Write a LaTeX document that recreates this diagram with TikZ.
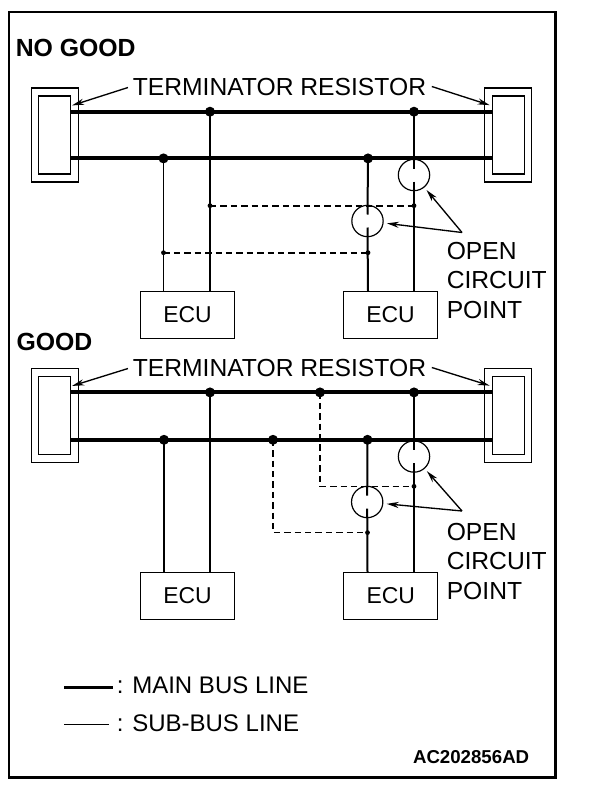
\documentclass[tikz,border=0pt]{standalone}
\usepackage{fontspec}
\setmainfont{Liberation Sans}
\usetikzlibrary{arrows.meta,calc}
\begin{document}
\begin{tikzpicture}[x=0.75pt,y=-0.75pt,
  mainbus/.style={line width=3pt},
  medline/.style={line width=1.5pt},
  thinline/.style={line width=0.8pt},
  dashthick/.style={line width=1.2pt,dash pattern=on 4.8pt off 3pt},
  dashthin/.style={line width=0.8pt,dash pattern=on 4.8pt off 3pt},
  bigdot/.style={circle,fill=black,inner sep=0pt,minimum size=7.5pt},
  smalldot/.style={circle,fill=black,inner sep=0pt,minimum size=3.6pt},
  termout/.style={draw,line width=0.9pt,inner sep=0pt,minimum width=35.4pt,minimum height=70.5pt},
  termin/.style={draw,line width=0.9pt,inner sep=0pt,minimum width=24pt,minimum height=58.5pt},
  ecubox/.style={draw,line width=0.9pt,inner sep=0pt,minimum width=70.6pt,minimum height=35pt,font=\fontsize{17.2}{19}\selectfont},
  opencirc/.style={circle,draw,line width=0.9pt,inner sep=0pt,minimum size=23.5pt},
  lbl/.style={inner sep=0pt,anchor=base west,font=\fontsize{18.5}{20}\selectfont},
  leglbl/.style={inner sep=0pt,anchor=base west,font=\fontsize{18}{20}\selectfont},
  title/.style={inner sep=0pt,anchor=base west,font=\fontsize{18.6}{20}\selectfont\bfseries},
  arr/.style={line width=1pt,-{Stealth[length=9pt,width=4.6pt]}}
]
\useasboundingbox[fill=white] (0,0) rectangle (608,810);
\draw[line width=1.6pt] (9,11.7) rectangle (555.5,777.5);

% ================= NO GOOD =================
\node[title] (ng) at (15.5,56) {NO GOOD};
\node[lbl] (a-tt) at (132.5,95) {TERMINATOR RESISTOR};
\node[termout] (a-tlout) at (54.7,135) {};
\node[termin]  (a-tlin)  at (54.8,135) {};
\node[termout] (a-trout) at (507.7,135) {};
\node[termin]  (a-trin)  at (508.2,135) {};
\coordinate (a-j1) at (210,111.7);
\coordinate (a-j2) at (414,111.7);
\coordinate (a-j3) at (163.5,158.4);
\coordinate (a-j4) at (368,158.4);
\coordinate (a-d1) at (210,205.7);
\coordinate (a-d2) at (414,205.7);
\coordinate (a-d3) at (163.5,252.7);
\coordinate (a-d4) at (368,252.7);
\node[ecubox] (a-ecu1) at (187.5,315) {ECU};
\node[ecubox] (a-ecu2) at (390.5,315) {ECU};
\node[opencirc] (a-c1) at (367.5,221) {};
\node[opencirc] (a-c2) at (414,175) {};
\draw[mainbus] (a-tlin.east |- a-j1) -- (a-trin.west |- a-j1);
\draw[mainbus] (a-tlin.east |- a-j3) -- (a-trin.west |- a-j3);
\draw[thinline] (a-j3) -- (a-j3 |- a-ecu1.north);
\draw[medline] (a-j1) -- (a-j1 |- a-ecu1.north);
\draw[medline] (a-j4) -- ($(a-c1.center)+(0,-6.5)$);
\draw[medline] ($(a-c1.center)+(0,6.5)$) -- (a-j4 |- a-ecu2.north);
\draw[thinline] (a-j2) -- ($(a-c2.center)+(0,-6.5)$);
\draw[thinline] ($(a-c2.center)+(0,6.5)$) -- (a-j2 |- a-ecu2.north);
\draw[dashthick] (a-d1) -- (a-d2);
\draw[dashthick] (a-d3) -- (a-d4);
\foreach \p in {a-j1,a-j2,a-j3,a-j4} \node[bigdot] at (\p) {};
\foreach \p in {a-d1,a-d2,a-d3,a-d4} \node[smalldot] at (\p) {};
\draw[arr] ($(a-tt.west)+(-4.5,1)$) -- ($(a-tlin.north east)+(0.7,10)$);
\draw[arr] ($(a-tt.east)+(5.5,0)$) -- ($(a-trin.north west)+(-2,9.7)$);
\node[lbl] (a-o1) at (446.5,259.5) {OPEN};
\node[lbl] (a-o2) at (446.5,288.5) {CIRCUIT};
\node[lbl] (a-o3) at (446.5,318.5) {POINT};
\coordinate (a-p) at (462,232.5);
\draw[arr,shorten >=2.5pt] (a-p) -- (a-c2);
\draw[arr,shorten >=2.5pt] (a-p) -- (a-c1);

% ================= GOOD =================
\node[title] (gd) at (16.3,350) {GOOD};
\begin{scope}[shift={(0,281)}]
\node[lbl] (b-tt) at (132.5,95) {TERMINATOR RESISTOR};
\node[termout] (b-tlout) at (54.7,134.5) {};
\node[termin]  (b-tlin)  at (54.8,134.5) {};
\node[termout] (b-trout) at (507.7,134.5) {};
\node[termin]  (b-trin)  at (508.2,134.5) {};
\coordinate (b-j1) at (210,111.4);
\coordinate (b-j5) at (320,111.4);
\coordinate (b-j2) at (414,111.4);
\coordinate (b-j3) at (164,158.8);
\coordinate (b-j6) at (273,158.8);
\coordinate (b-j4) at (367.5,158.8);
\coordinate (b-k1) at (320,205.3);
\coordinate (b-d2) at (414,205.3);
\coordinate (b-k2) at (273,251.6);
\coordinate (b-d4) at (367.5,251.6);
\node[ecubox] (b-ecu1) at (187.5,315) {ECU};
\node[ecubox] (b-ecu2) at (390.8,315) {ECU};
\node[opencirc] (b-c1) at (367.2,221) {};
\node[opencirc] (b-c2) at (414,175.5) {};
\draw[mainbus] (b-tlin.east |- b-j1) -- (b-trin.west |- b-j1);
\draw[mainbus] (b-tlin.east |- b-j3) -- (b-trin.west |- b-j3);
\draw[thinline] (b-j3) -- (b-j3 |- b-ecu1.north);
\draw[medline] (b-j1) -- (b-j1 |- b-ecu1.north);
\draw[medline] (b-j4) -- ($(b-c1.center)+(0,-6.5)$);
\draw[medline] ($(b-c1.center)+(0,6.5)$) -- (b-j4 |- b-ecu2.north);
\draw[thinline] (b-j2) -- ($(b-c2.center)+(0,-6.5)$);
\draw[thinline] ($(b-c2.center)+(0,6.5)$) -- (b-j2 |- b-ecu2.north);
\draw[dashthin] (b-j5) -- (b-k1) -- (b-d2);
\draw[dashthick] (b-j6) -- (b-k2) -- (b-d4);
\foreach \p in {b-j1,b-j2,b-j3,b-j4,b-j5,b-j6} \node[bigdot] at (\p) {};
\foreach \p in {b-d2,b-d4} \node[smalldot] at (\p) {};
\draw[arr] ($(b-tt.west)+(-4.5,1)$) -- ($(b-tlin.north east)+(0.7,10)$);
\draw[arr] ($(b-tt.east)+(5.5,0)$) -- ($(b-trin.north west)+(-2,9.7)$);
\node[lbl] (b-o1) at (446.5,259.5) {OPEN};
\node[lbl] (b-o2) at (446.5,288.5) {CIRCUIT};
\node[lbl] (b-o3) at (446.5,318.5) {POINT};
\coordinate (b-p) at (462,230);
\draw[arr,shorten >=2.5pt] (b-p) -- (b-c2);
\draw[arr,shorten >=2.5pt] (b-p) -- (b-c1);
\end{scope}

% ================= LEGEND =================
\coordinate (lg1a) at (64,687.3);
\coordinate (lg1b) at (112.7,687.3);
\coordinate (lg2a) at (64,724.3);
\coordinate (lg2b) at (109,724.3);
\draw[line width=2.3pt] (lg1a) -- (lg1b);
\draw[thinline] (lg2a) -- (lg2b);
\node[leglbl] (lgt1) at (116.5,693) {: MAIN BUS LINE};
\node[leglbl] (lgt2) at (116.5,731) {: SUB-BUS LINE};
\node[inner sep=0pt,anchor=base east,font=\fontsize{14}{16}\selectfont\bfseries] (code) at (529.5,763) {AC202856AD};
\end{tikzpicture}
\end{document}
